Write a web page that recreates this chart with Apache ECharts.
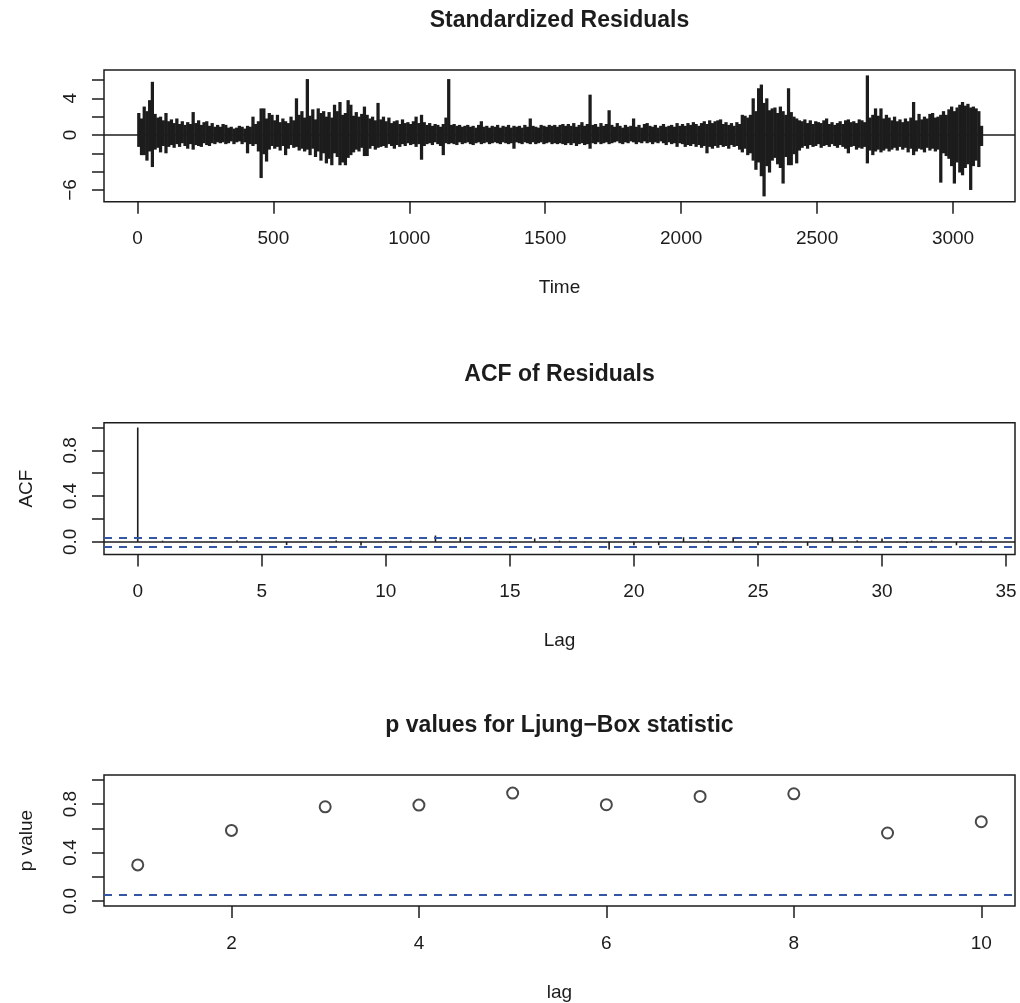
<!DOCTYPE html>
<html>
<head>
<meta charset="utf-8">
<script src="https://cdn.jsdelivr.net/npm/echarts@6/dist/echarts.min.js"></script>
<style>
  html, body { margin: 0; padding: 0; background: #ffffff; }
  #chart { width: 1020px; height: 1003px; }
</style>
</head>
<body>
<div id="chart"></div>
<script>
// Standardized residuals, summarised per 10-step bin as the highest and lowest
// residual inside the bin (type "h" spikes all start at zero, so the union of
// the spikes in a bin is the span [low, high]).
const residStep = 10;
const residHigh = [
  2.4, 1.8, 3.1, 2.6, 3.8, 5.8, 2.3, 1.9, 2.0, 1.6,
  2.4, 1.5, 1.7, 1.3, 1.8, 1.2, 1.5, 1.1, 1.4, 1.2,
  2.5, 1.3, 1.6, 1.1, 1.4, 1.5, 1.0, 1.3, 0.9, 1.1,
  0.9, 1.2, 1.1, 0.8, 0.9, 0.7, 0.8, 1.0, 0.9, 0.7,
  1.0, 0.9, 2.0, 1.2, 1.5, 2.9, 2.9, 1.8, 2.4, 2.2,
  1.6, 2.2, 1.4, 1.8, 1.5, 1.3, 2.0, 1.6, 4.0, 2.2,
  2.6, 1.9, 6.1, 2.1, 2.8, 1.7, 2.9, 2.4, 2.6, 2.0,
  2.5, 1.9, 3.3, 2.6, 3.6, 2.2, 2.4, 3.8, 3.3, 2.1,
  2.5, 2.0, 2.3, 3.1, 2.2, 1.8, 2.0, 1.6, 3.5, 1.7,
  2.0, 1.5, 1.9, 1.3, 1.5, 1.6, 1.2, 1.7, 1.3, 1.4,
  1.2, 1.5, 2.0, 1.3, 2.2, 1.4, 1.1, 1.3, 1.0, 1.2,
  1.1, 0.9, 1.2, 1.9, 6.1, 1.1, 1.2, 1.0, 1.1, 0.9,
  1.0, 1.1, 0.9, 1.0, 0.8, 1.1, 1.5, 0.9, 1.0, 0.8,
  1.0, 0.9, 1.1, 0.8, 1.0, 0.9, 1.1, 0.8, 1.0, 0.9,
  1.0, 0.8, 1.1, 0.9, 1.8, 1.0, 0.9, 0.8, 1.1, 1.0,
  0.9, 1.1, 1.0, 1.1, 0.9, 1.1, 1.2, 1.0, 1.2, 1.0,
  1.3, 0.9, 1.1, 1.4, 1.0, 1.2, 4.4, 1.1, 1.2, 0.9,
  1.3, 1.0, 1.2, 2.7, 1.1, 0.9, 1.3, 1.0, 0.8, 1.1,
  0.9, 1.0, 1.8, 0.9, 1.1, 0.8, 1.2, 1.3, 1.0, 0.9,
  1.1, 0.8, 1.0, 1.2, 0.9, 1.0, 1.1, 0.9, 1.3, 1.0,
  1.2, 1.0, 1.3, 1.1, 1.4, 1.2, 1.0, 1.3, 1.5, 1.2,
  1.6, 1.3, 1.5, 1.6, 1.7, 1.2, 1.4, 1.1, 1.3, 1.0,
  1.4, 1.2, 2.2, 2.1, 1.9, 2.2, 4.0, 2.6, 5.1, 5.5,
  3.5, 4.0, 2.7, 2.9, 3.0, 2.4, 3.1, 2.6, 2.2, 5.1,
  2.5, 2.0, 1.8, 1.6, 1.5, 1.7, 1.3, 1.6, 1.2, 1.5,
  1.4, 1.3, 1.6, 1.8, 1.2, 1.4, 1.1, 1.3, 1.5, 1.2,
  1.6, 1.7, 1.4, 1.5, 1.3, 1.7, 1.6, 1.4, 6.5, 1.9,
  2.2, 2.9, 2.1, 2.9, 1.8, 2.2, 1.9, 1.6, 2.0, 1.5,
  1.7, 1.4, 1.8, 1.5, 1.9, 3.6, 1.6, 2.3, 1.7, 2.0,
  1.8, 2.3, 2.4, 1.9, 2.0, 2.2, 2.6, 2.2, 2.8, 3.1,
  2.6, 3.0, 3.3, 3.6, 3.2, 3.4, 3.0, 3.1, 2.9, 2.6,
  1.0
];
const residLow = [
  -1.3, -2.2, -2.2, -2.8, -1.8, -3.5, -1.6, -1.4, -1.9, -1.2,
  -2.0, -1.3, -1.1, -1.4, -1.0, -1.3, -0.9, -1.2, -1.5, -1.0,
  -1.6, -1.1, -1.2, -1.3, -0.9, -1.1, -1.2, -0.9, -1.0, -0.8,
  -0.9, -0.8, -1.0, -0.9, -0.7, -1.0, -0.8, -0.7, -1.0, -0.8,
  -2.0, -1.0, -1.2, -1.0, -1.8, -4.7, -2.1, -2.9, -1.6, -1.2,
  -1.5, -1.3, -1.7, -1.2, -2.2, -1.5, -1.1, -1.4, -1.3, -1.7,
  -1.5, -1.8, -1.6, -2.2, -1.5, -2.4, -1.8, -2.8, -2.0, -3.1,
  -2.6, -3.3, -2.0, -2.4, -3.3, -3.0, -3.3, -2.5, -2.2, -1.9,
  -1.6, -1.8, -1.4, -2.3, -2.3, -1.5, -1.2, -1.6, -1.4, -1.3,
  -1.2, -1.4, -1.0, -1.2, -1.5, -1.1, -1.3, -1.0, -1.2, -0.9,
  -1.1, -1.0, -1.3, -1.0, -2.7, -1.2, -1.0, -0.9, -1.1, -0.8,
  -1.0, -1.2, -2.2, -0.9, -1.0, -0.9, -1.0, -1.1, -0.8, -1.0,
  -0.9, -0.8, -1.0, -1.1, -0.9, -0.8, -1.0, -0.9, -0.8, -1.0,
  -0.9, -0.8, -0.9, -1.0, -0.8, -0.9, -1.0, -0.9, -1.5, -0.8,
  -0.9, -1.0, -0.8, -0.9, -1.0, -0.8, -1.0, -0.9, -0.8, -1.0,
  -0.9, -0.8, -1.0, -0.9, -1.0, -0.9, -1.0, -1.1, -0.9, -1.1,
  -0.9, -1.2, -1.0, -0.9, -1.1, -1.0, -1.5, -0.9, -1.0, -0.8,
  -1.0, -0.9, -0.8, -1.0, -0.9, -0.8, -0.7, -0.9, -1.0, -0.8,
  -0.9, -0.7, -0.8, -1.0, -0.8, -0.9, -0.7, -0.9, -0.8, -1.0,
  -0.8, -0.9, -0.7, -0.9, -1.1, -0.8, -1.0, -0.9, -1.3, -0.9,
  -1.0, -1.3, -1.1, -1.2, -1.0, -1.3, -1.1, -1.4, -1.2, -2.0,
  -1.3, -1.5, -1.2, -1.4, -1.1, -1.3, -1.2, -1.5, -1.1, -1.3,
  -1.2, -1.6, -1.9, -1.5, -2.2, -2.0, -2.8, -3.8, -3.0, -4.5,
  -6.7, -3.4, -4.1, -2.8, -2.5, -3.2, -3.6, -5.3, -2.4, -3.3,
  -3.3, -2.1, -3.1, -1.7, -1.4, -1.2, -1.5, -1.1, -1.3, -1.2,
  -1.0, -1.4, -1.2, -1.1, -1.3, -1.0, -1.2, -1.4, -1.1, -1.3,
  -1.5, -2.0, -1.3, -1.2, -1.6, -1.4, -1.5, -1.3, -3.1, -1.7,
  -2.2, -1.8, -1.6, -1.9, -1.7, -1.5, -1.8, -1.6, -1.4, -1.7,
  -1.3, -1.6, -1.4, -1.9, -1.5, -2.2, -1.8, -1.5, -1.6, -1.9,
  -1.4, -1.7, -1.5, -1.8, -1.6, -5.2, -2.0, -2.3, -2.6, -3.4,
  -5.3, -3.0, -4.1, -4.4, -3.6, -3.2, -6.0, -3.4, -2.8, -3.5,
  -1.2
];
const residTimeTicks = [0, 500, 1000, 1500, 2000, 2500, 3000];
const residValueTicks = [-6, -4, -2, 0, 2, 4, 6];
const residValueLabels = [-6, 0, 4];

// Sample autocorrelation of the residuals
const acfLags = [
  0, 1, 2, 3, 4, 5, 6, 7, 8, 9, 10, 11, 12, 13, 14, 15, 16,
  17, 18, 19, 20, 21, 22, 23, 24, 25, 26, 27, 28, 29, 30, 31, 32, 33, 34
];
const acfValues = [
  1.0, 0.010, 0.003, -0.004, 0.012, 0.002, -0.028, 0.006, 0.012, -0.032,
  0.005, 0.010, 0.055, 0.040, 0.003, -0.010, 0.030,
  0.010, -0.006, -0.067, -0.030, -0.030, 0.040, 0.010, 0.040, -0.030,
  0.005, -0.035, 0.040, 0.012, 0.030, -0.010, 0.010, -0.030, 0.010
];
const acfBound = 0.036;
const acfLagTicks = [0, 5, 10, 15, 20, 25, 30, 35];
const acfValueTicks = [0, 0.2, 0.4, 0.6, 0.8, 1.0];
const acfValueLabels = [0, 0.4, 0.8];

// Ljung-Box p values
const lbLags = [1, 2, 3, 4, 5, 6, 7, 8, 9, 10];
const lbPValues = [0.299, 0.583, 0.778, 0.792, 0.891, 0.795, 0.863, 0.885, 0.562, 0.655];
const lbLevel = 0.05;
const lbLagTicks = [2, 4, 6, 8, 10];
const lbValueTicks = [0, 0.2, 0.4, 0.6, 0.8, 1.0];
const lbValueLabels = [0, 0.4, 0.8];

const ink = '#1c1c1c';
const refBlue = '#3555a5';
const fontFamily = '"Liberation Sans", Arial, Helvetica, sans-serif';
const minus = s => String(s).replace('-', '\u2212');

// three stacked panels with identical margins
const plotLeft = 104, plotWidth = 911, plotHeight = 131.7;
const plotTops = [70, 422.7, 775];
const titleOffset = [49.3, 48, 49.3];

function xAxisFor(gridIndex, min, max, ticks, name) {
  return {
    type: 'value', gridIndex, min, max, name,
    nameLocation: 'middle', nameGap: 77,
    nameTextStyle: { fontFamily, fontSize: 19, color: ink },
    axisLine: { show: false, onZero: false },
    splitLine: { show: false },
    axisTick: { show: true, inside: false, length: 12, customValues: ticks,
                lineStyle: { color: ink, width: 1.5 } },
    axisLabel: { show: true, margin: 28, customValues: ticks,
                 fontFamily, fontSize: 19, color: ink,
                 formatter: v => minus(v) }
  };
}

function yAxisFor(gridIndex, min, max, ticks, labels, name, fmt) {
  return {
    type: 'value', gridIndex, min, max, name,
    nameLocation: 'middle', nameGap: 68,
    nameTextStyle: { fontFamily, fontSize: 19, color: ink },
    axisLine: { show: false, onZero: false },
    splitLine: { show: false },
    axisTick: { show: true, inside: false, length: 12, customValues: ticks,
                lineStyle: { color: ink, width: 1.5 } },
    axisLabel: { show: true, margin: 24, rotate: 90, customValues: labels,
                 fontFamily, fontSize: 19, color: ink, formatter: fmt }
  };
}

const dashed = [8, 7];

const residData = residHigh.map((h, i) => [i * residStep + residStep / 2, residLow[i], h]);
const acfData = acfLags.map((lag, i) => [lag, acfValues[i]]);
const lbData = lbLags.map((lag, i) => [lag, lbPValues[i]]);

const chart = echarts.init(document.getElementById('chart'), null, { renderer: 'canvas' });

chart.setOption({
  animation: false,
  backgroundColor: '#ffffff',
  grid: plotTops.map(top => ({
    left: plotLeft, top, width: plotWidth, height: plotHeight,
    show: true, borderColor: ink, borderWidth: 1.5, backgroundColor: 'transparent'
  })),
  xAxis: [
    xAxisFor(0, -123, 3228, residTimeTicks, 'Time'),
    xAxisFor(1, -1.36, 35.36, acfLagTicks, 'Lag'),
    xAxisFor(2, 0.64, 10.36, lbLagTicks, 'lag')
  ],
  yAxis: [
    yAxisFor(0, -7.28, 7.09, residValueTicks, residValueLabels, '', v => minus(v)),
    yAxisFor(1, -0.11, 1.042, acfValueTicks, acfValueLabels, 'ACF', v => v.toFixed(1)),
    yAxisFor(2, -0.04, 1.04, lbValueTicks, lbValueLabels, 'p value', v => v.toFixed(1))
  ],
  graphic: [
    'Standardized Residuals',
    'ACF of Residuals',
    'p values for Ljung\u2212Box statistic'
  ].map((text, i) => ({
    type: 'text', x: plotLeft + plotWidth / 2, y: plotTops[i] - titleOffset[i],
    style: { text, fill: ink, font: 'bold 23px ' + fontFamily,
             textAlign: 'center', textVerticalAlign: 'middle' }
  })),
  series: [
    {
      type: 'custom', name: 'residuals', xAxisIndex: 0, yAxisIndex: 0,
      data: residData,
      encode: { x: 0, y: [1, 2] },
      renderItem(params, api) {
        const t = api.value(0);
        const lo = api.coord([t, api.value(1)]);
        const hi = api.coord([t, api.value(2)]);
        // slightly wider than the bin so neighbouring spans merge without seams
        const w = api.size([residStep, 0])[0] * 1.2;
        return {
          type: 'rect',
          shape: { x: lo[0] - w / 2, y: hi[1], width: w, height: lo[1] - hi[1] },
          style: { fill: ink }
        };
      },
      markLine: {
        silent: true, symbol: 'none', animation: false,
        label: { show: false },
        lineStyle: { color: ink, width: 1.5, type: 'solid' },
        data: [{ yAxis: 0 }]
      }
    },
    {
      type: 'custom', name: 'acf', xAxisIndex: 1, yAxisIndex: 1,
      data: acfData,
      encode: { x: 0, y: 1 },
      renderItem(params, api) {
        const base = api.coord([api.value(0), 0]);
        const tip = api.coord([api.value(0), api.value(1)]);
        return {
          type: 'line',
          shape: { x1: base[0], y1: base[1], x2: tip[0], y2: tip[1] },
          style: { stroke: ink, lineWidth: 1.6 }
        };
      },
      markLine: {
        silent: true, symbol: 'none', animation: false,
        label: { show: false },
        data: [
          { yAxis: 0, lineStyle: { color: ink, width: 1.5, type: 'solid' } },
          { yAxis: acfBound, lineStyle: { color: refBlue, width: 1.8, type: dashed } },
          { yAxis: -acfBound, lineStyle: { color: refBlue, width: 1.8, type: dashed } }
        ]
      }
    },
    {
      type: 'scatter', name: 'p value', xAxisIndex: 2, yAxisIndex: 2,
      data: lbData,
      symbol: 'circle', symbolSize: 11,
      itemStyle: { color: 'rgba(0,0,0,0)', borderColor: ink, borderWidth: 2 },
      markLine: {
        silent: true, symbol: 'none', animation: false,
        label: { show: false },
        lineStyle: { color: refBlue, width: 1.8, type: dashed },
        data: [{ yAxis: lbLevel }]
      }
    }
  ]
});
</script>
</body>
</html>
